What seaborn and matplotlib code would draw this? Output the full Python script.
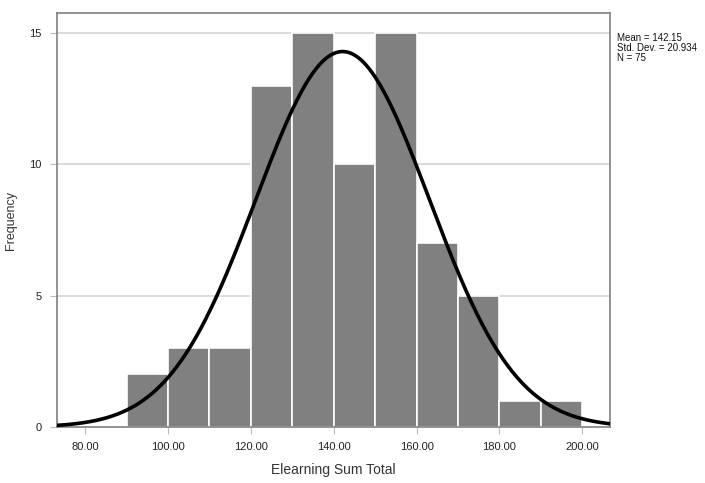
import numpy as np
import pandas as pd
import matplotlib
matplotlib.use("Agg")
import matplotlib.pyplot as plt
import seaborn as sns

# Histogram bins (lower edges) and frequencies
bin_edges = [90, 100, 110, 120, 130, 140, 150, 160, 170, 180, 190, 200]
counts = [2, 3, 3, 13, 15, 10, 15, 7, 5, 1, 1]

# Summary statistics
mean_val = 142.15
sd_val = 20.934
n_val = 75

x_ticks = [80, 100, 120, 140, 160, 180, 200]
y_ticks = [0, 5, 10, 15]

sns.set_theme(style="white")
plt.rcParams['font.family'] = ['Arial', 'Liberation Sans', 'DejaVu Sans']

fig = plt.figure(figsize=(7.05, 4.83), dpi=100)
ax = fig.add_axes([57 / 705, 1 - 427 / 483, (610 - 57) / 705, (427 - 13) / 483])

centers = [(bin_edges[i] + bin_edges[i + 1]) / 2 for i in range(len(counts))]
df = pd.DataFrame({"value": centers, "freq": counts})

for yv in [5, 10, 15]:
    ax.axhline(yv, color="#d4d4d4", lw=1.2, zorder=0)

sns.histplot(data=df, x="value", weights="freq", bins=bin_edges, ax=ax,
             color="#808080", alpha=1.0, edgecolor="white", linewidth=1.2, zorder=2)

# Fitted normal curve scaled to counts
bw = bin_edges[1] - bin_edges[0]
xs = np.linspace(73.2, 206.7, 400)
ys = n_val * bw * np.exp(-0.5 * ((xs - mean_val) / sd_val) ** 2) / (sd_val * np.sqrt(2 * np.pi))
sns.lineplot(x=xs, y=ys, ax=ax, color="black", lw=2.6, zorder=3)

ax.set_xlim(73.2, 206.7)
ax.set_ylim(0, 15.76)
ax.set_xticks(x_ticks)
ax.set_xticklabels([f"{t:.2f}" for t in x_ticks], fontsize=8, color="#222222")
ax.set_yticks(y_ticks)
ax.set_yticklabels([str(t) for t in y_ticks], fontsize=8, color="#222222")
ax.tick_params(axis="both", which="both", length=5, width=0.8, color="#bbbbbb",
               direction="out", bottom=True, left=True, pad=6)
for sp in ax.spines.values():
    sp.set_color("#808080")
    sp.set_linewidth(1.2)

ax.set_xlabel("Elearning Sum Total", fontsize=10, color="#333333", labelpad=8)
ax.set_ylabel("Frequency", fontsize=9, color="#333333", labelpad=9)

fig.text(617 / 705, 1 - 33 / 483,
         f"Mean = {mean_val}\nStd. Dev. = {sd_val}\nN = {n_val}",
         fontsize=7, color="#111111", va="top", ha="left", linespacing=1.0)

fig.savefig("out.png", dpi=100)
